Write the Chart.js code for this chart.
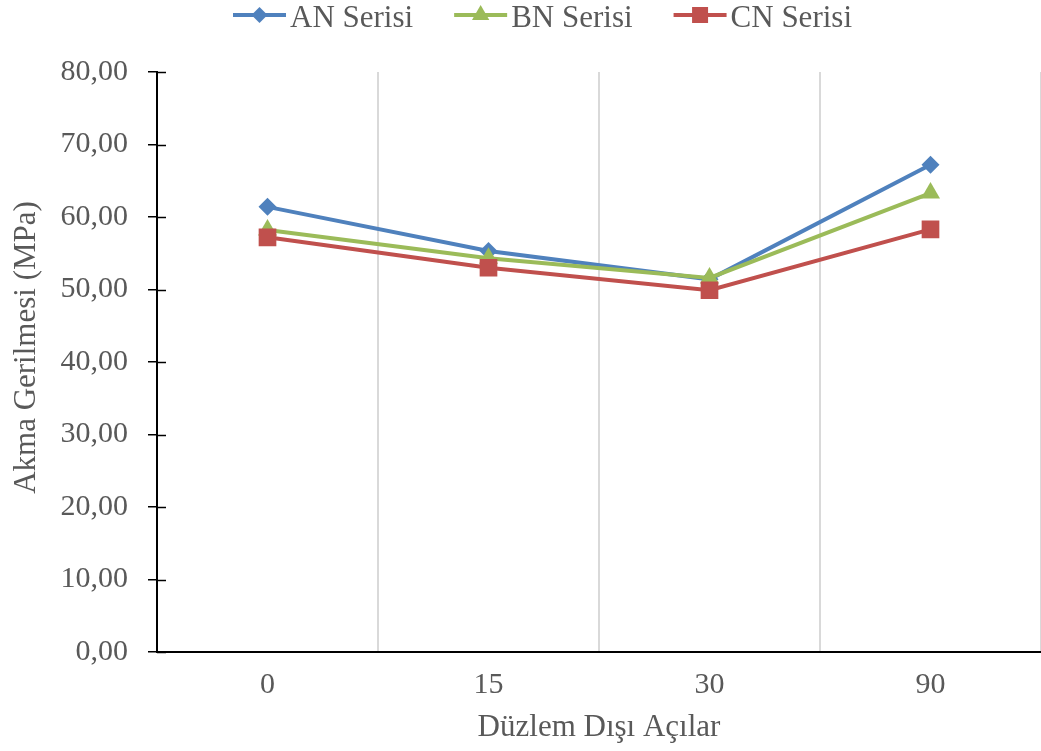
<!DOCTYPE html>
<html>
<head>
<meta charset="utf-8">
<script src="https://cdn.jsdelivr.net/npm/chart.js"></script>
<style>
  html, body { margin: 0; padding: 0; background: #ffffff; }
  #wrap { width: 1041px; height: 751px; position: relative; }
</style>
</head>
<body>
<div id="wrap"><canvas id="c"></canvas></div>
<script>
const categories = ['0', '15', '30', '90'];
const anSerisi = [61.4, 55.3, 51.4, 67.2];
const bnSerisi = [58.2, 54.3, 51.6, 63.3];
const cnSerisi = [57.2, 53.0, 49.9, 58.3];
const seriesNames = ['AN Serisi', 'BN Serisi', 'CN Serisi'];
const yTitle = 'Akma Gerilmesi (MPa)';
const xTitle = 'Düzlem Dışı Açılar';

const FONT = '"Liberation Serif", "Times New Roman", serif';
const TEXT = '#595959';
const colors = ['#4F81BD', '#9BBB59', '#C0504D'];

function drawMarker(ctx, style, x, y, r, color) {
  ctx.save();
  ctx.fillStyle = color;
  ctx.beginPath();
  if (style === 'rectRot') {
    ctx.moveTo(x - r, y); ctx.lineTo(x, y - r); ctx.lineTo(x + r, y); ctx.lineTo(x, y + r);
  } else if (style === 'triangle') {
    const w = r * Math.sin(Math.PI / 3);
    ctx.moveTo(x, y - r); ctx.lineTo(x + w, y + r / 2); ctx.lineTo(x - w, y + r / 2);
  } else {
    ctx.rect(x - r, y - r, 2 * r, 2 * r);
  }
  ctx.closePath();
  ctx.fill();
  ctx.restore();
}

const legendPlugin = {
  id: 'customLegend',
  afterDraw(chart) {
    const ctx = chart.ctx;
    ctx.save();
    ctx.font = '31px ' + FONT;
    const lineLen = 53, gapText = 4, gapItem = 41;
    const legendMarkers = [['rectRot', 8], ['triangle', 10], ['rect', 8]];
    const items = chart.data.datasets.map((d, i) => ({
      label: d.label, color: d.borderColor, w: ctx.measureText(d.label).width, m: legendMarkers[i]
    }));
    let total = 0;
    items.forEach((it, i) => { total += lineLen + gapText + it.w + (i < items.length - 1 ? gapItem : 0); });
    let x = 542.5 - total / 2;
    const ly = 15, ty = 27;
    items.forEach(it => {
      ctx.strokeStyle = it.color;
      ctx.lineWidth = 4;
      ctx.beginPath();
      ctx.moveTo(x, ly); ctx.lineTo(x + lineLen, ly);
      ctx.stroke();
      drawMarker(ctx, it.m[0], x + lineLen / 2, ly, it.m[1], it.color);
      ctx.fillStyle = TEXT;
      ctx.textBaseline = 'alphabetic';
      ctx.textAlign = 'left';
      ctx.fillText(it.label, x + lineLen + gapText, ty);
      x += lineLen + gapText + it.w + gapItem;
    });
    ctx.restore();
  }
};

const extras = {
  id: 'extras',
  beforeDatasetsDraw(chart) {
    const y = chart.scales.y;
    const ctx = chart.ctx;
    ctx.save();
    ctx.strokeStyle = '#000000';
    ctx.lineWidth = 1.5;
    y.ticks.forEach(t => {
      const py = Math.round(y.getPixelForValue(t.value)) + 0.5;
      ctx.beginPath();
      ctx.moveTo(y.right, py);
      ctx.lineTo(y.right + 9, py);
      ctx.stroke();
    });
    ctx.translate(35, 347.5);
    ctx.rotate(-Math.PI / 2);
    ctx.font = '31px ' + FONT;
    ctx.fillStyle = TEXT;
    ctx.textAlign = 'center';
    ctx.textBaseline = 'alphabetic';
    ctx.fillText(yTitle, 0, 0);
    ctx.restore();
  }
};

new Chart(document.getElementById('c'), {
  type: 'line',
  data: {
    labels: categories,
    datasets: [
      { label: seriesNames[0], data: anSerisi, borderColor: colors[0], backgroundColor: colors[0],
        pointStyle: 'rectRot', pointRadius: 9, pointHoverRadius: 9, borderWidth: 4, pointBorderWidth: 0, order: 3 },
      { label: seriesNames[1], data: bnSerisi, borderColor: colors[1], backgroundColor: colors[1],
        pointStyle: 'triangle', pointRadius: 11, pointHoverRadius: 11, borderWidth: 4, pointBorderWidth: 0, order: 2 },
      { label: seriesNames[2], data: cnSerisi, borderColor: colors[2], backgroundColor: colors[2],
        pointStyle: 'rect', pointRadius: 12.5, pointHoverRadius: 12.5, borderWidth: 4, pointBorderWidth: 0, order: 1 }
    ]
  },
  options: {
    responsive: true,
    maintainAspectRatio: false,
    animation: false,
    layout: { autoPadding: false, padding: { top: 72, left: 0, right: 0, bottom: 0 } },
    plugins: { legend: { display: false }, tooltip: { enabled: false } },
    elements: { line: { tension: 0 } },
    scales: {
      x: {
        offset: true,
        grid: { display: true, offset: true, drawOnChartArea: true, drawTicks: false, color: '#D9D9D9', lineWidth: 2 },
        border: { display: true, color: '#000000', width: 2 },
        ticks: { color: TEXT, font: { family: FONT, size: 30 }, padding: 15 },
        title: { display: true, text: xTitle, color: TEXT, font: { family: FONT, size: 31 }, padding: { top: 0, bottom: 5 } },
        afterFit(s) { s.height = 99; s.paddingLeft = 0; s.paddingRight = 0; }
      },
      y: {
        min: 0, max: 80,
        ticks: { stepSize: 10, color: TEXT, font: { family: FONT, size: 30 }, padding: 20,
          callback: v => Number(v).toFixed(2).replace('.', ',') },
        grid: { display: true, drawOnChartArea: false, drawTicks: true, tickLength: 9, color: '#000000', lineWidth: 1.5 },
        border: { display: true, color: '#000000', width: 2 },
        title: { display: false },
        afterFit(s) { s.width = 157; }
      }
    }
  },
  plugins: [legendPlugin, extras]
});
</script>
</body>
</html>
